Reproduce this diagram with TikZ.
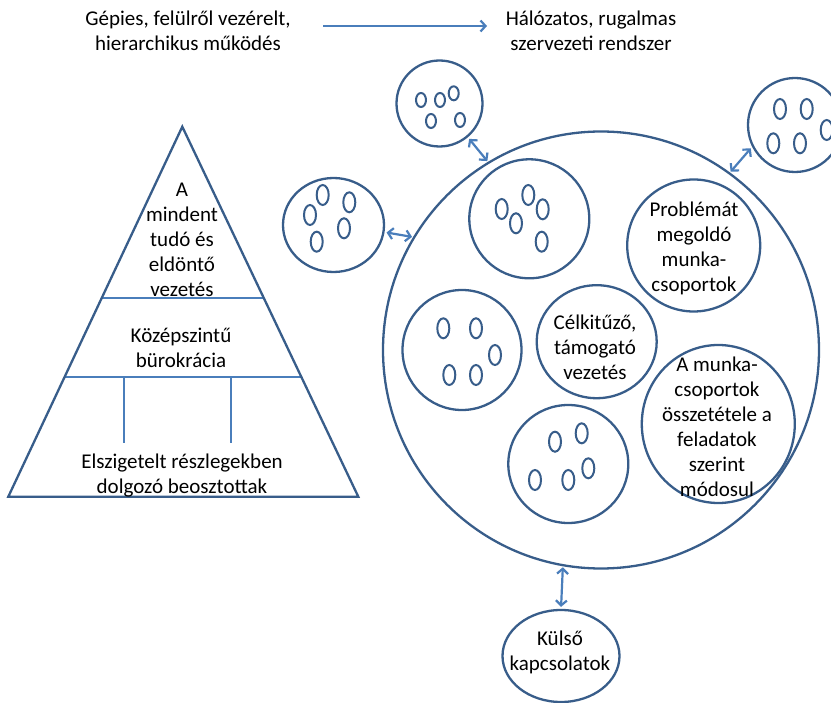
\documentclass[tikz,border=0pt]{standalone}
\usepackage{fontspec}
\setmainfont{Carlito}
\usepackage{xcolor}
\definecolor{ringblue}{HTML}{385D8A}
\definecolor{linkblue}{HTML}{4A7EBB}
\usetikzlibrary{arrows.meta, calc, shapes.geometric}

\begin{document}
\begin{tikzpicture}[x=1pt, y=-1pt, font=\fontsize{21}{25}\selectfont,
  ring/.style={ellipse, draw=ringblue, line width=2.3pt, inner sep=0pt},
  seed/.style={draw=ringblue, line width=2pt},
  lbl/.style={align=center, inner sep=0pt},
  rule/.style={draw=linkblue, line width=2.2pt},
  link/.style={rule, {Straight Barb[length=5pt,width=11pt]}-{Straight Barb[length=5pt,width=11pt]},
    shorten <=2pt, shorten >=1pt}]
  \clip (0,0) rectangle (831,703);
  % Heading: from the mechanical to the networked organisation.
  \node[lbl] (mech) at (188,31) {Gépies, felülről vezérelt,\\hierarchikus működés};
  \node[lbl] (netw) at (591,31) {Hálózatos, rugalmas\\szervezeti rendszer};
  \coordinate (flowa) at (323,26);
  \coordinate (flowb) at (487,26);
  \draw[rule, -{Straight Barb[length=5pt,width=11pt]}] (flowa) -- (flowb);
  % Pyramid with its three levels.
  \coordinate (apex) at (182.3,126.7);
  \coordinate (bl) at (8.3,496.7);
  \coordinate (br) at (358.3,496.7);
  \draw[rule] ($(apex)!0.4638!(bl)$) -- ($(apex)!0.4638!(br)$);
  \draw[rule] ($(apex)!0.6757!(bl)$) -- ($(apex)!0.6757!(br)$);
  \draw[rule] (124.3,376.7) -- (124.3,443.3);
  \draw[rule] (231,376.7) -- (231,443.3);
  \draw[ringblue, line width=2.3pt] (apex) -- (bl) -- (br) -- cycle;
  \node[lbl] (boss) at (182,240) {A\\mindent\\tudó és\\eldöntő\\vezetés};
  \node[lbl] (midl) at (181,348) {Középszintű\\bürokrácia};
  \node[lbl] (staff) at (182,476) {Elszigetelt részlegekben\\dolgozó beosztottak};
  % Network: the big circle and its groups.
  \node[ring, minimum width=436pt, minimum height=437pt] (web) at (601,350) {};
  \node[ring, minimum width=86pt, minimum height=86pt] (sattop) at (439.5,103.5) {};
  \node[ring, minimum width=101pt, minimum height=94pt] (satleft) at (333.5,225) {};
  \node[ring, minimum width=94pt, minimum height=94pt] (satright) at (795,125) {};
  \node[ring, minimum width=120pt, minimum height=119pt] (grpa) at (529.3,218.8) {};
  \node[ring, minimum width=119pt, minimum height=120pt] (grpb) at (462,350) {};
  \node[ring, minimum width=120pt, minimum height=118pt] (grpc) at (568.3,464) {};
  \node[ring, minimum width=133pt, minimum height=132pt] (prob) at (693.7,245.5) {};
  \node[ring, minimum width=120pt, minimum height=113pt] (aim) at (596.7,341.7) {};
  \node[ring, minimum width=153pt, minimum height=158pt] (remix) at (718.3,424) {};
  \node[ring, minimum width=117pt, minimum height=92pt] (outer) at (561,656) {};
  \node[lbl] (probtxt) at (694,248) {Problémát\\megoldó\\munka-\\csoportok};
  \node[lbl] (aimtxt) at (595,347) {Célkitűző,\\támogató\\vezetés};
  \node[lbl] (remixtxt) at (717,427) {A munka-\\csoportok\\összetétele a\\feladatok\\szerint\\módosul};
  \node[lbl] (outertxt) at (560,652) {Külső\\kapcsolatok};
  % Members inside the groups.
  \foreach \x/\y in {421/100, 440/100, 453.7/93.3, 431/121, 460/120}
    \draw[seed] (\x,\y) ellipse (5pt and 7pt);
  \foreach \x/\y in {322.7/195, 349.3/202.3, 310/215, 344/228.3, 316.7/241.7,
                     780/109, 806.7/109, 826.7/130, 773.3/143.3, 800/143.3,
                     501.7/209, 528.3/195, 542.7/209.3, 516/223.3, 541.7/241.7,
                     443.3/328.3, 476/328.3, 495/355, 449.3/375, 476/375,
                     555/441.7, 581.7/433.3, 535/480, 568.3/480, 588.3/468.3}
    \draw[seed] (\x,\y) ellipse (6pt and 10pt);
  % Links to the outside.
  \draw[link] (sattop.-50) -- (web.121);
  \draw[link] (satleft.-8.5) -- (web.149.8);
  \draw[link] (satright.207.8) -- (web.54.6);
  \draw[link] (outer.north) -- (web.-100.5);
\end{tikzpicture}
\end{document}
